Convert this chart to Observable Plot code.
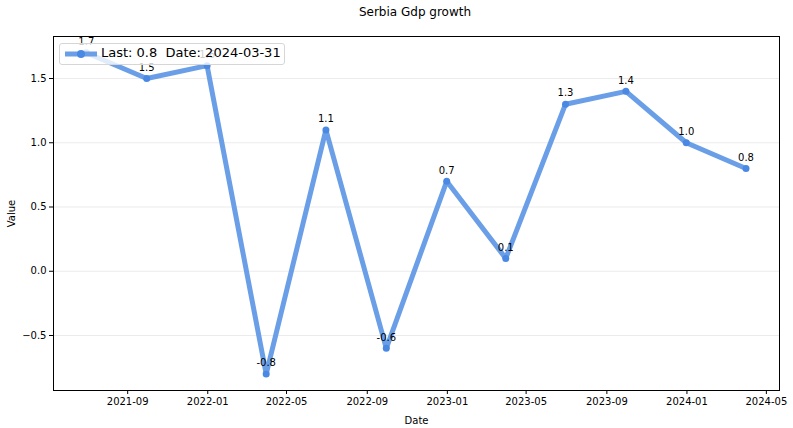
<!DOCTYPE html>
<html>
<head>
<meta charset="utf-8">
<script src="https://cdn.jsdelivr.net/npm/d3@7"></script>
<script src="https://cdn.jsdelivr.net/npm/@observablehq/plot@0.6"></script>
<style>
  body { margin: 0; background: #fff; font-family: "DejaVu Sans", sans-serif; }
  #wrap { position: relative; width: 793px; height: 428px; }
  #title { position: absolute; left: 0; top: 5px; width: 830px; text-align: center; font-size: 12px; color: #000; }
  #chart { position: absolute; left: 0; top: 26px; }
  #legend { position: absolute; left: 59px; top: 43px; width: 226px; height: 22px; border: 1px solid #d6d6d6; border-radius: 3px; background: rgba(255,255,255,0.8); font-size: 13px; color: #000; box-sizing: border-box; }
  #legend svg { position: absolute; left: 4px; top: 3px; }
  #legend span { position: absolute; left: 41px; top: 1px; white-space: pre; }
</style>
</head>
<body>
<div id="wrap">
  <div id="title">Serbia Gdp growth</div>
  <div id="chart"></div>
  <div id="legend">
    <svg width="34" height="14"><line x1="1" y1="7" x2="33" y2="7" stroke="#6a9fe8" stroke-width="5"/><circle cx="17" cy="7" r="4" fill="#4a89e3"/></svg>
    <span id="legtext"></span>
  </div>
</div>
<script>
const dates = ["2021-06-30","2021-09-30","2021-12-31","2022-03-31","2022-06-30","2022-09-30","2022-12-31","2023-03-31","2023-06-30","2023-09-30","2023-12-31","2024-03-31"];
const values = [1.7, 1.5, 1.6, -0.8, 1.1, -0.6, 0.7, 0.1, 1.3, 1.4, 1.0, 0.8];
const xTicks = ["2021-09-01","2022-01-01","2022-05-01","2022-09-01","2023-01-01","2023-05-01","2023-09-01","2024-01-01","2024-05-01"];
const yTicks = [-0.5, 0.0, 0.5, 1.0, 1.5];

const data = dates.map((d, i) => ({date: new Date(d), value: values[i], label: values[i].toFixed(1)}));
const last = data[data.length - 1];
document.getElementById("legtext").textContent = `Last: ${last.label}  Date: ${dates[dates.length - 1]}`;

const chart = Plot.plot({
  width: 793,
  height: 402,
  marginLeft: 53,
  marginRight: 14,
  marginTop: 10,
  marginBottom: 38,
  style: {fontFamily: "DejaVu Sans, sans-serif", fontSize: "10px", color: "#000", background: "#fff"},
  x: {type: "utc", domain: [new Date("2021-05-11"), new Date("2024-05-21")]},
  y: {domain: [-0.928, 1.827]},
  marks: [
    Plot.gridY(yTicks, {stroke: "#000", strokeOpacity: 0.1, strokeWidth: 0.8}),
    Plot.axisX(xTicks.map(d => new Date(d)), {tickFormat: d3.utcFormat("%Y-%m"), tickSize: 4, tickPadding: 3, fontSize: 10, label: "Date", labelAnchor: "center", labelArrow: "none", labelOffset: 33}),
    Plot.axisY(yTicks, {tickFormat: d3.format(".1f"), tickSize: 4, tickPadding: 3, fontSize: 10, label: "Value", labelAnchor: "center", labelArrow: "none", labelOffset: 46}),
    Plot.line(data, {x: "date", y: "value", stroke: "#6a9fe8", strokeWidth: 5}),
    Plot.dot(data, {x: "date", y: "value", r: 3.5, fill: "#4a89e3"}),
    Plot.text(data, {x: "date", y: "value", text: "label", dy: -11, fontSize: 10, fill: "#000"}),
    Plot.frame({stroke: "#000", strokeWidth: 1})
  ]
});
document.getElementById("chart").appendChild(chart);
</script>
</body>
</html>
